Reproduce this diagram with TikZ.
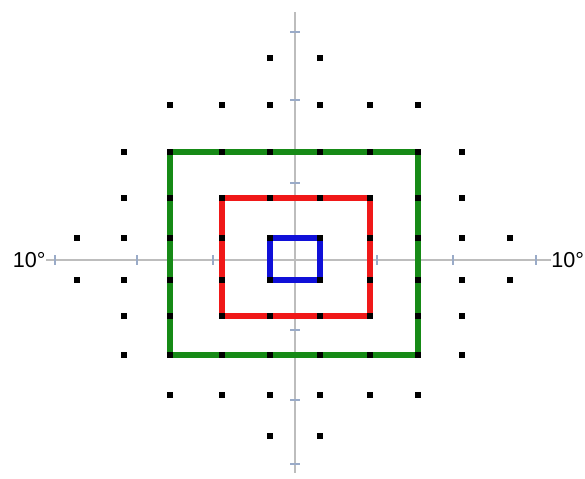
\documentclass[tikz,border=0pt]{standalone}
\usepackage{fontspec}
\setmainfont{Liberation Sans}
\usepackage{tikz}
\usetikzlibrary{backgrounds}
\definecolor{axisColor}{HTML}{BDBDBD}
\definecolor{tickColor}{HTML}{9AABC8}
\definecolor{outerColor}{HTML}{168A16}
\definecolor{midColor}{HTML}{F01818}
\definecolor{innerColor}{HTML}{1010D8}

\begin{document}
\begin{tikzpicture}[
		x=0.02cm, y=-0.02cm,
		pt/.style={draw=none, fill=black, minimum size=0.13cm, inner sep=0pt},
		degr/.style={font=\fontsize{12.3}{14}\selectfont, inner sep=0pt},
		axis/.style={draw=axisColor, line width=1.3pt},
		tck/.style={draw=tickColor, line width=1.6pt},
		frame/.style={line width=2.9pt}
		]
		\useasboundingbox (0,0) rectangle (585,478);

		% Labels
		\node[degr, anchor=east] (lft) at (46,260) {10°};
		\node[degr, anchor=west] (rgt) at (551,260) {10°};
		\coordinate (top) at (295,12);
		\coordinate (bot) at (295,473);

		% Points
		\foreach \y/\lo/\hi [count=\j] in {58/5/6, 105/3/8, 152/2/9, 198/2/9, 238/1/10, 280/1/10, 316/2/9, 355/2/9, 395/3/8, 436/5/6}{
			\foreach \x [count=\i] in {77,124,170,222,270,320,370,418,462,510}{
				\ifnum\i<\lo\else\ifnum\i>\hi\else
					\node[pt] (d\i-\j) at (\x,\y) {};
				\fi\fi
			}
		}

		\begin{scope}[on background layer]
			% Axes
			\draw[axis] (lft.east) -- (rgt.west);
			\draw[axis] (top) -- (bot);
			\foreach \x in {55,137,213,377,453,536}
				\draw[tck] (\x,255) -- (\x,265);
			\foreach \y in {32,100,183,330,400,464}
				\draw[tck] (290,\y) -- (300,\y);

			% Frames
			\draw[frame, draw=outerColor] (d3-3.center) rectangle (d8-8.center);
			\draw[frame, draw=midColor] (d4-4.center) rectangle (d7-7.center);
			\draw[frame, draw=innerColor] (d5-5.center) rectangle (d6-6.center);
		\end{scope}
	\end{tikzpicture}
\end{document}
